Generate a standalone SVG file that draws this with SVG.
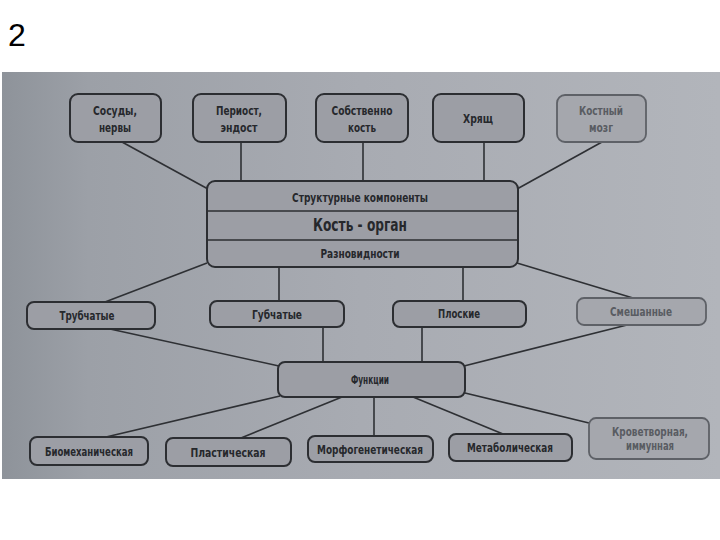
<svg xmlns="http://www.w3.org/2000/svg" width="720" height="540" viewBox="0 0 720 540">
<defs>
<linearGradient id="bg" x1="0" y1="0" x2="1" y2="0">
<stop offset="0" stop-color="#8e939a"/>
<stop offset="0.12" stop-color="#9ca0a7"/>
<stop offset="0.5" stop-color="#a8abb2"/>
<stop offset="1" stop-color="#b2b5bb"/>
</linearGradient>
<style>
.box{fill:#9c9ea5;stroke:#2c2e32;stroke-width:2}
.fbox{fill:#a5a7ad;stroke:#5e6167;stroke-width:1.8}
.t{font-family:"DejaVu Sans Condensed","DejaVu Sans","Liberation Sans",sans-serif;font-weight:bold;font-size:13px;fill:#26282c;text-anchor:middle}
.ft{fill:#595c62}
.c line{stroke:#2e3034;stroke-width:1.6}
</style>
</defs>
<rect width="720" height="540" fill="#ffffff"/>
<text x="8" y="46" font-family="Liberation Sans, Arial, sans-serif" font-size="32" fill="#000">2</text>
<rect x="2" y="72" width="718" height="407" fill="url(#bg)"/>

<g class="c" id="connectors">
<line x1="122" y1="142" x2="208" y2="189"/>
<line x1="241" y1="142" x2="241" y2="182"/>
<line x1="363" y1="142" x2="363" y2="182"/>
<line x1="484" y1="142" x2="484" y2="182"/>
<line x1="602" y1="142" x2="517" y2="189"/>
<line x1="207" y1="263" x2="105" y2="302"/>
<line x1="279" y1="267" x2="279" y2="301"/>
<line x1="463" y1="267" x2="463" y2="301"/>
<line x1="517" y1="263" x2="633" y2="298"/>
<line x1="110" y1="329" x2="279" y2="366"/>
<line x1="323" y1="327" x2="323" y2="362"/>
<line x1="422" y1="327" x2="422" y2="362"/>
<line x1="627" y1="325" x2="464" y2="366"/>
<line x1="280" y1="396" x2="106" y2="437"/>
<line x1="342" y1="397" x2="241" y2="438"/>
<line x1="374" y1="397" x2="374" y2="436"/>
<line x1="413" y1="397" x2="503" y2="434"/>
<line x1="465" y1="393" x2="589" y2="423"/>
</g>

<g id="sosudy"><rect class="box" x="70" y="94" width="91" height="48" rx="8"/>
<text class="t" x="115" y="115" textLength="44" lengthAdjust="spacingAndGlyphs">Сосуды,</text>
<text class="t" x="115" y="132" textLength="32" lengthAdjust="spacingAndGlyphs">нервы</text></g>
<g id="periost"><rect class="box" x="193" y="94" width="93" height="48" rx="8"/>
<text class="t" x="239" y="115" textLength="46" lengthAdjust="spacingAndGlyphs">Периост,</text>
<text class="t" x="239" y="132" textLength="37" lengthAdjust="spacingAndGlyphs">эндост</text></g>
<g id="sobstvenno"><rect class="box" x="316" y="94" width="92" height="48" rx="8"/>
<text class="t" x="362" y="115" textLength="61" lengthAdjust="spacingAndGlyphs">Собственно</text>
<text class="t" x="362" y="132" textLength="28" lengthAdjust="spacingAndGlyphs">кость</text></g>
<g id="khryashch"><rect class="box" x="433" y="94" width="91" height="48" rx="8"/>
<text class="t" x="478" y="123" textLength="30" lengthAdjust="spacingAndGlyphs">Хрящ</text></g>
<g id="mozg"><rect class="fbox" x="557" y="95" width="89" height="47" rx="8"/>
<text class="t ft" x="601" y="115" textLength="44" lengthAdjust="spacingAndGlyphs">Костный</text>
<text class="t ft" x="601" y="132" textLength="24" lengthAdjust="spacingAndGlyphs">мозг</text></g>

<g id="kost-organ">
<rect class="box" x="207" y="181" width="311" height="86" rx="8"/>
<line x1="207" y1="211" x2="518" y2="211" stroke="#2c2e32" stroke-width="1.6"/>
<line x1="207" y1="240" x2="518" y2="240" stroke="#2c2e32" stroke-width="1.6"/>
<text class="t" x="360" y="202" style="font-size:12px" textLength="136" lengthAdjust="spacingAndGlyphs">Структурные компоненты</text>
<text class="t" x="360" y="231" style="font-size:17px" textLength="94" lengthAdjust="spacingAndGlyphs">Кость - орган</text>
<text class="t" x="360" y="258" style="font-size:12px" textLength="79" lengthAdjust="spacingAndGlyphs">Разновидности</text>
</g>

<g id="trubchatye"><rect class="box" x="27" y="302" width="128" height="27" rx="7"/>
<text class="t" x="87" y="320" textLength="55" lengthAdjust="spacingAndGlyphs">Трубчатые</text></g>
<g id="gubchatye"><rect class="box" x="210" y="301" width="134" height="26" rx="7"/>
<text class="t" x="277" y="319" textLength="50" lengthAdjust="spacingAndGlyphs">Губчатые</text></g>
<g id="ploskie"><rect class="box" x="393" y="301" width="133" height="26" rx="7"/>
<text class="t" x="459" y="318" textLength="42" lengthAdjust="spacingAndGlyphs">Плоские</text></g>
<g id="smeshannye"><rect class="fbox" x="577" y="298" width="129" height="27" rx="7"/>
<text class="t ft" x="641" y="316" textLength="62" lengthAdjust="spacingAndGlyphs">Смешанные</text></g>

<g id="funktsii"><rect class="box" x="278" y="362" width="187" height="35" rx="7"/>
<text class="t" x="370" y="384" textLength="38" lengthAdjust="spacingAndGlyphs">Функции</text></g>

<g id="biomech"><rect class="box" x="30" y="437" width="118" height="28" rx="7"/>
<text class="t" x="89" y="456" textLength="88" lengthAdjust="spacingAndGlyphs">Биомеханическая</text></g>
<g id="plast"><rect class="box" x="166" y="438" width="125" height="28" rx="7"/>
<text class="t" x="228" y="457" textLength="75" lengthAdjust="spacingAndGlyphs">Пластическая</text></g>
<g id="morfo"><rect class="box" x="308" y="436" width="125" height="26" rx="7"/>
<text class="t" x="370" y="454" textLength="106" lengthAdjust="spacingAndGlyphs">Морфогенетическая</text></g>
<g id="metab"><rect class="box" x="449" y="434" width="123" height="27" rx="7"/>
<text class="t" x="510" y="452" textLength="86" lengthAdjust="spacingAndGlyphs">Метаболическая</text></g>
<g id="krovetvor"><rect class="fbox" x="589" y="418" width="120" height="41" rx="7"/>
<text class="t ft" x="650" y="436" style="font-size:12px" textLength="76" lengthAdjust="spacingAndGlyphs">Кроветворная,</text>
<text class="t ft" x="650" y="450" style="font-size:12px" textLength="48" lengthAdjust="spacingAndGlyphs">иммунная</text></g>
</svg>
